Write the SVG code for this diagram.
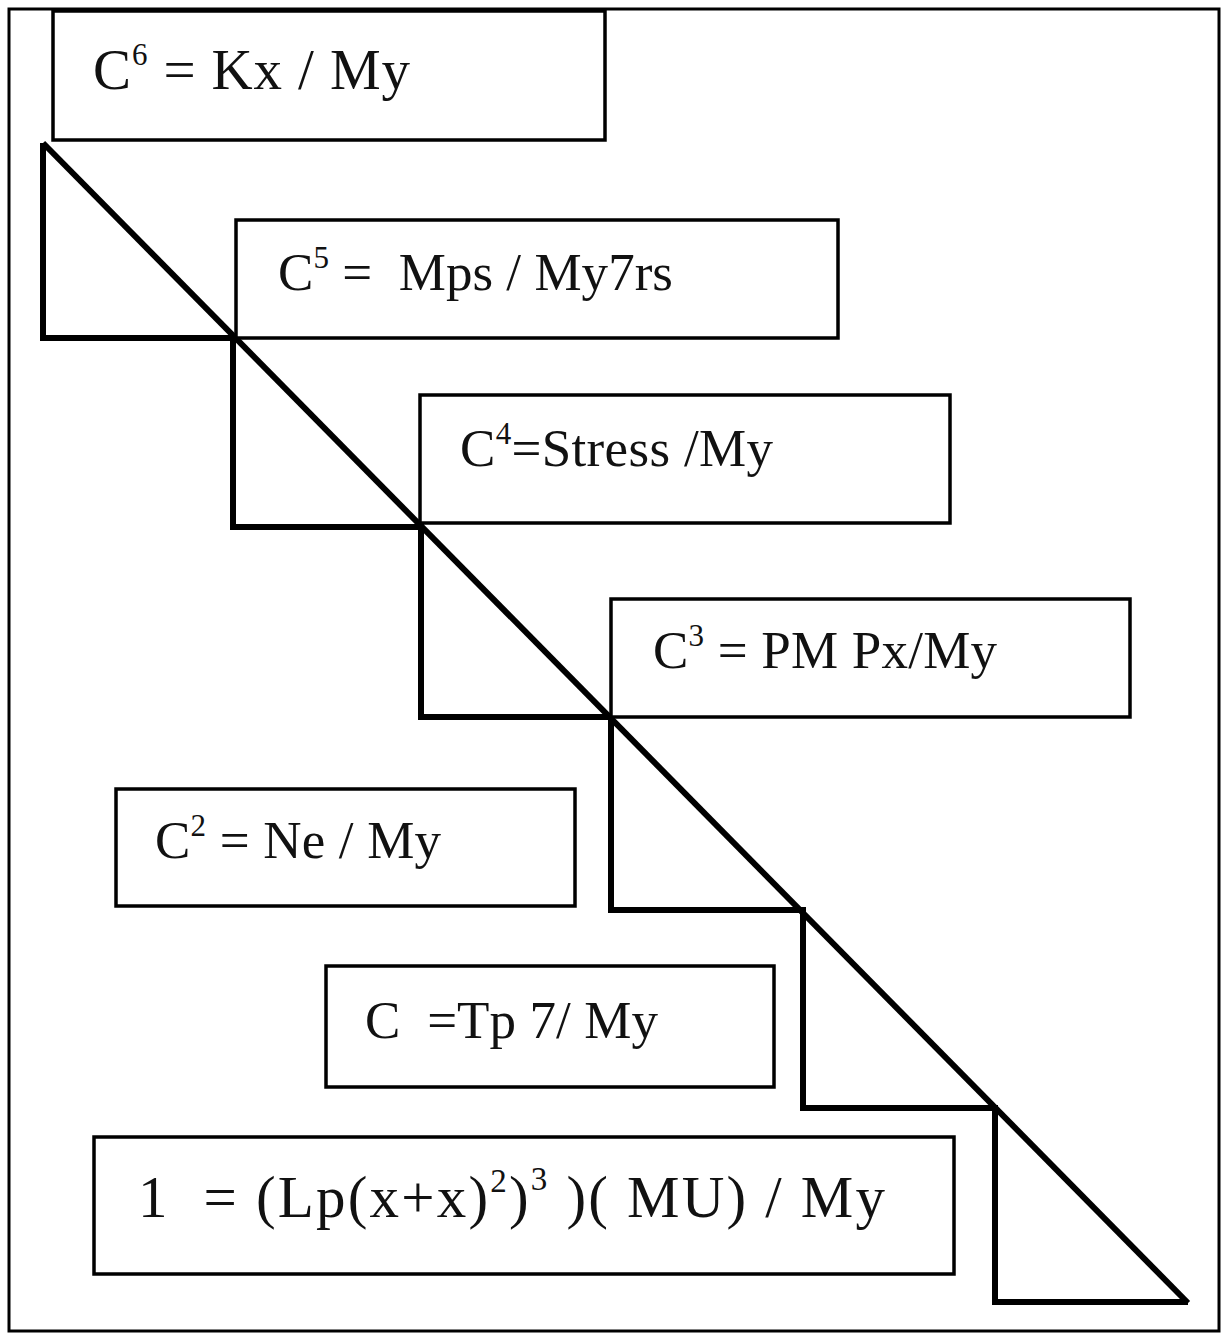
<svg xmlns="http://www.w3.org/2000/svg" width="1222" height="1334" viewBox="0 0 1222 1334">
<style>
.frame{fill:none;stroke:#000;stroke-width:3}
.box{fill:#fff;stroke:#000;stroke-width:3.5}
.stair{fill:none;stroke:#000;stroke-width:6;stroke-linejoin:miter}
.diag{fill:none;stroke:#000;stroke-width:6}
.t{font-family:"Liberation Serif","Times New Roman",serif;font-size:53px;fill:#111}
.sup{font-size:31px}
</style>
<rect x="9" y="9" width="1210" height="1322" class="frame"/>
<g id="connectors">
<path class="stair" d="M43,143 V338 H233 V527 H421 V717 H611 V910 H803 V1108 H995 V1302 H1188"/>
<line class="diag" x1="43" y1="143" x2="1188" y2="1303"/>
</g>
<g id="node-c6">
<rect class="box" x="53" y="11" width="552" height="129"/>
<text class="t" x="93" y="89" textLength="317" lengthAdjust="spacing" style="font-size:57px">C<tspan class="sup" dy="-24">6</tspan><tspan dy="24"> = Kx / My</tspan></text>
</g>
<g id="node-c5">
<rect class="box" x="236" y="220" width="602" height="118"/>
<text class="t" x="278" y="290" textLength="395" lengthAdjust="spacing">C<tspan class="sup" dy="-22">5</tspan><tspan dy="22"> =&#160; Mps / My7rs</tspan></text>
</g>
<g id="node-c4">
<rect class="box" x="420" y="395" width="530" height="128"/>
<text class="t" x="460" y="466" textLength="313" lengthAdjust="spacing">C<tspan class="sup" dy="-22">4</tspan><tspan dy="22">=Stress /My</tspan></text>
</g>
<g id="node-c3">
<rect class="box" x="611" y="599" width="519" height="118"/>
<text class="t" x="653" y="668" textLength="344" lengthAdjust="spacing">C<tspan class="sup" dy="-22">3</tspan><tspan dy="22"> = PM Px/My</tspan></text>
</g>
<g id="node-c2">
<rect class="box" x="116" y="789" width="459" height="117"/>
<text class="t" x="155" y="858" textLength="286" lengthAdjust="spacing">C<tspan class="sup" dy="-22">2</tspan><tspan dy="22"> = Ne / My</tspan></text>
</g>
<g id="node-c1">
<rect class="box" x="326" y="966" width="448" height="121"/>
<text class="t" x="365" y="1038" textLength="293" lengthAdjust="spacing">C&#160; =Tp 7/ My</text>
</g>
<g id="node-1">
<rect class="box" x="94" y="1137" width="860" height="137"/>
<text class="t" x="138" y="1217" textLength="747" lengthAdjust="spacing" style="font-size:59px">1&#160; = (Lp(x+x)<tspan class="sup" style="font-size:33px" dy="-25">2</tspan><tspan dy="25">)</tspan><tspan class="sup" style="font-size:33px" dy="-27">3</tspan><tspan dy="27"> )( MU) / My</tspan></text>
</g>
</svg>
